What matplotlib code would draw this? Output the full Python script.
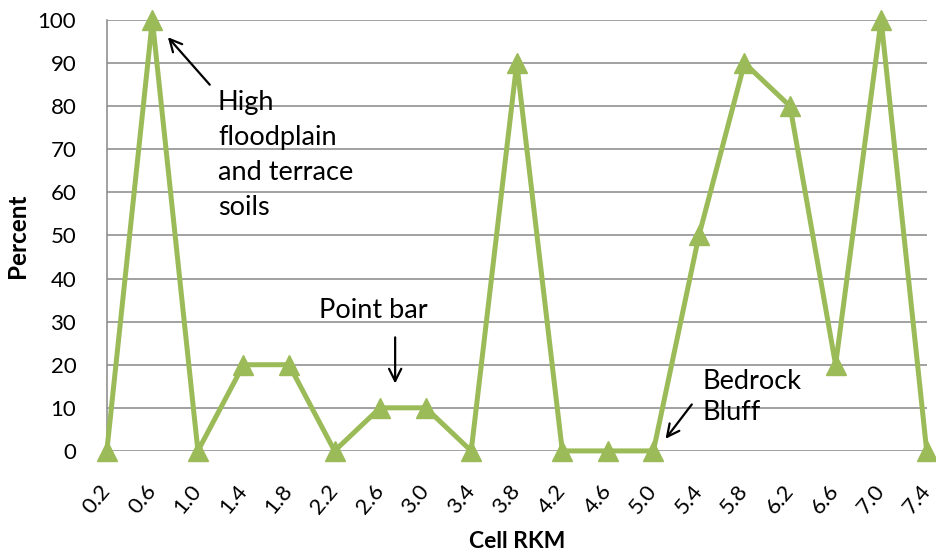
import matplotlib
matplotlib.use("Agg")
import matplotlib.pyplot as plt

plt.rcParams['font.family'] = ['Lato', 'DejaVu Sans']

# data
rkm_labels = ["0.2", "0.6", "1.0", "1.4", "1.8", "2.2", "2.6", "3.0", "3.4", "3.8",
              "4.2", "4.6", "5.0", "5.4", "5.8", "6.2", "6.6", "7.0", "7.4"]
percent = [0, 100, 0, 20, 20, 0, 10, 10, 0, 90, 0, 0, 0, 50, 90, 80, 20, 100, 0]
yticks = list(range(0, 101, 10))

green = '#9BBB59'
grid_gray = '#878787'

fig = plt.figure(figsize=(9.37, 5.56), dpi=100)
ax = fig.add_axes([0.114, 0.189, 0.875, 0.775])

x = list(range(len(rkm_labels)))
ax.plot(x, percent, color=green, linewidth=3.6, marker='^', markersize=14,
        clip_on=False, zorder=3)

ax.set_xlim(0, len(rkm_labels) - 1)
ax.set_ylim(0, 100)
ax.set_yticks(yticks)
ax.set_xticks(x)
ax.set_xticklabels(rkm_labels, rotation=50, ha='right', va='center',
                   rotation_mode='anchor')
ax.tick_params(axis='both', length=0, labelsize=16)
ax.tick_params(axis='x', pad=26)
ax.tick_params(axis='y', pad=22)

ax.grid(axis='y', color=grid_gray, linewidth=1.1)
ax.set_axisbelow(True)
for s in ['top', 'right', 'bottom']:
    ax.spines[s].set_visible(False)
ax.spines['left'].set_color(grid_gray)
ax.spines['left'].set_linewidth(1.1)

ax.set_ylabel('Percent', fontsize=17.5, fontweight='bold', labelpad=6)
ax.set_xlabel('Cell RKM', fontsize=16.5, fontweight='bold', labelpad=10)

arrow = dict(arrowstyle='->', color='black', lw=1.6, mutation_scale=22)
ax.annotate('', xy=(1.3, 96.5), xytext=(2.3, 84.5), arrowprops=arrow)
ax.text(2.44, 83.8, 'High\nfloodplain\nand terrace\nsoils', fontsize=19.5,
        va='top', ha='left', linespacing=1.5)

ax.annotate('', xy=(6.33, 15), xytext=(6.33, 27), arrowprops=arrow)
ax.text(5.86, 32.5, 'Point bar', fontsize=19.5, va='center', ha='center')

ax.annotate('', xy=(12.23, 2.3), xytext=(12.88, 11.3), arrowprops=arrow)
ax.text(13.08, 12.5, 'Bedrock\nBluff', fontsize=19.5, va='center', ha='left',
        linespacing=1.3)

fig.savefig('out.png', dpi=100)
